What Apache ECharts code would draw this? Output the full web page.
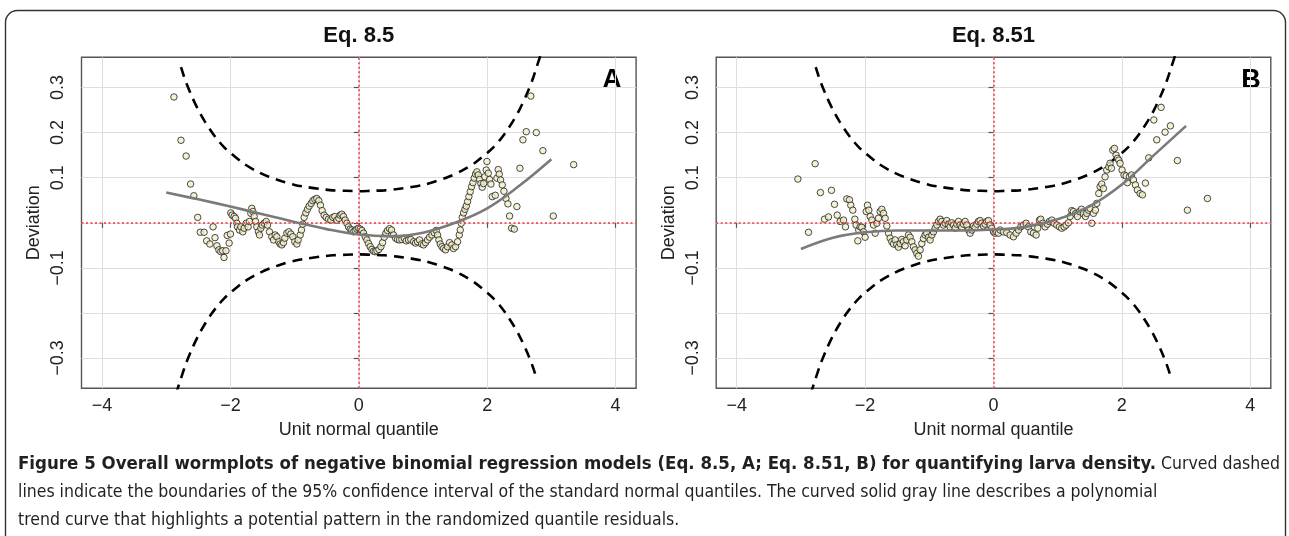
<!DOCTYPE html>
<html>
<head>
<meta charset="utf-8">
<script src="https://cdn.jsdelivr.net/npm/echarts@6/dist/echarts.min.js"></script>
<style>
html,body{margin:0;padding:0;background:#fff;}
#chart{width:1289px;height:536px;}
</style>
</head>
<body>
<div id="chart"></div>
<script>
// ---- tick definitions ----
const xTicks = [-4, -2, 0, 2, 4];
const yTicks = [-0.3, -0.2, -0.1, 0, 0.1, 0.2, 0.3];
const yLabelTicks = [-0.3, -0.1, 0.1, 0.2, 0.3];
const panelTitles = ['Eq. 8.5', 'Eq. 8.51'];
const panelLetters = ['A', 'B'];

// ---- 95% confidence band (dashed) ----
const bandUpperX = [-2.77,-2.7,-2.6,-2.5,-2.4,-2.3,-2.2,-2.1,-2.0,-1.8,-1.6,-1.4,-1.2,-1.0,-0.8,-0.6,-0.4,-0.2,0,0.2,0.4,0.6,0.8,1.0,1.2,1.4,1.6,1.8,2.0,2.1,2.2,2.3,2.4,2.5,2.6,2.7,2.77,2.85];
const bandUpperY = [0.345,0.315,0.280,0.250,0.225,0.203,0.184,0.168,0.155,0.132,0.115,0.102,0.092,0.084,0.079,0.075,0.072,0.071,0.070,0.071,0.072,0.075,0.079,0.084,0.092,0.102,0.115,0.132,0.155,0.168,0.184,0.203,0.225,0.250,0.280,0.315,0.345,0.380];
const bandLowerX = [-2.85,-2.77,-2.7,-2.6,-2.5,-2.4,-2.3,-2.2,-2.1,-2.0,-1.8,-1.6,-1.4,-1.2,-1.0,-0.8,-0.6,-0.4,-0.2,0,0.2,0.4,0.6,0.8,1.0,1.2,1.4,1.6,1.8,2.0,2.1,2.2,2.3,2.4,2.5,2.6,2.7,2.77];
const bandLowerY = [-0.380,-0.345,-0.315,-0.280,-0.250,-0.225,-0.203,-0.184,-0.168,-0.155,-0.132,-0.115,-0.102,-0.092,-0.084,-0.079,-0.075,-0.072,-0.071,-0.070,-0.071,-0.072,-0.075,-0.079,-0.084,-0.092,-0.102,-0.115,-0.132,-0.155,-0.168,-0.184,-0.203,-0.225,-0.250,-0.280,-0.315,-0.345];

// ---- polynomial trend curves (solid gray) ----
const trendX = [-3.0,-2.5,-2.0,-1.5,-1.0,-0.5,0,0.5,1.0,1.5,2.0,2.5,3.0];
const trendA = [0.067,0.052,0.036,0.019,0.002,-0.014,-0.026,-0.030,-0.022,0.000,0.032,0.082,0.141];
const trendB = [-0.058,-0.033,-0.021,-0.017,-0.017,-0.017,-0.015,-0.009,0.008,0.037,0.085,0.150,0.215];

// ---- residual points (unit normal quantile, deviation) ----
const pointsA = [
[-2.88,0.279],[-2.77,0.183],[-2.69,0.148],[-2.62,0.086],[-2.57,0.060],[-2.51,0.012],[-2.47,-0.021],[-2.41,-0.021],[-2.37,-0.040],[-2.32,-0.047],[-2.27,-0.009],[-2.24,-0.033],[-2.21,-0.051],[-2.18,-0.060],[-2.15,-0.064],[-2.12,-0.062],[-2.10,-0.077],[-2.07,-0.062],[-2.05,-0.028],[-2.02,-0.045],[-2.00,-0.025],
[-1.994,0.022],[-1.973,0.017],[-1.942,0.014],[-1.921,0.010],[-1.900,-0.001],[-1.890,-0.009],[-1.859,-0.016],[-1.838,-0.009],[-1.807,-0.020],[-1.786,-0.012],[-1.755,-0.001],[-1.724,-0.009],[-1.703,0.003],[-1.682,0.021],[-1.667,0.032],[-1.651,0.025],[-1.630,0.014],[-1.610,0.003],[-1.589,-0.009],[-1.563,-0.020],[-1.547,-0.027],[-1.526,-0.012],[-1.505,-0.005],[-1.474,-0.001],[-1.443,0.003],[-1.422,-0.005],[-1.391,-0.020],[-1.355,-0.031],[-1.329,-0.038],[-1.303,-0.027],[-1.277,-0.031],[-1.246,-0.042],[-1.225,-0.047],[-1.199,-0.049],[-1.173,-0.044],[-1.152,-0.034],[-1.121,-0.023],[-1.090,-0.020],[-1.059,-0.025],[-1.028,-0.031],[-0.997,-0.042],[-0.965,-0.047],[-0.945,-0.038],[-0.913,-0.027],[-0.893,-0.016],[-0.872,-0.003],[-0.851,0.012],[-0.825,0.022],[-0.799,0.030],[-0.773,0.037],[-0.742,0.043],[-0.716,0.049],[-0.685,0.052],[-0.654,0.054],[-0.623,0.049],[-0.597,0.039],[-0.571,0.027],[-0.540,0.017],[-0.508,0.012],[-0.472,0.008],[-0.436,0.006],[-0.404,0.012],[-0.373,0.014],[-0.342,0.006],[-0.310,0.010],[-0.290,0.017],[-0.264,0.019],[-0.238,0.014],[-0.212,0.006],[-0.186,-0.001],[-0.160,-0.009],[-0.134,-0.014],[-0.108,-0.016],[-0.082,-0.020],[-0.056,-0.017],[-0.030,-0.014],[-0.004,-0.012],[0.022,-0.014],[0.048,-0.017],[0.074,-0.023],[0.100,-0.031],[0.126,-0.038],[0.152,-0.046],[0.178,-0.053],[0.204,-0.059],[0.230,-0.063],[0.256,-0.064],[0.282,-0.062],[0.313,-0.059],[0.344,-0.053],[0.370,-0.044],[0.396,-0.032],[0.422,-0.023],[0.448,-0.017],[0.479,-0.013],[0.510,-0.016],[0.541,-0.027],[0.573,-0.034],[0.604,-0.037],[0.635,-0.038],[0.671,-0.037],[0.708,-0.034],[0.739,-0.040],[0.775,-0.038],[0.811,-0.037],[0.853,-0.042],[0.884,-0.045],[0.915,-0.042],[0.946,-0.038],[0.978,-0.047],[1.009,-0.049],[1.040,-0.044],[1.071,-0.038],[1.102,-0.032],[1.139,-0.027],[1.175,-0.022],[1.206,-0.017],[1.227,-0.027],[1.248,-0.038],[1.269,-0.047],[1.295,-0.053],[1.321,-0.057],[1.352,-0.060],[1.383,-0.053],[1.414,-0.044],[1.450,-0.049],[1.476,-0.057],[1.507,-0.053],[1.539,-0.042],[1.565,-0.027],[1.580,-0.016],[1.596,-0.001],[1.611,0.012],[1.632,0.022],[1.653,0.030],[1.674,0.037],[1.695,0.047],[1.715,0.058],[1.736,0.069],[1.757,0.080],[1.778,0.089],[1.798,0.099],[1.819,0.108],[1.840,0.113],[1.861,0.106],[1.881,0.096],[1.902,0.087],[1.923,0.079],[1.944,0.087],[1.964,0.102],[1.985,0.117],[1.996,0.136],[2.017,0.110],[2.037,0.096],[2.058,0.086],[2.079,0.058],[2.126,0.061],[2.152,0.099],[2.172,0.118],[2.188,0.108],[2.209,0.095],[2.235,0.084],[2.261,0.070],[2.292,0.054],[2.323,0.042],[2.349,0.015],[2.380,-0.012],[2.422,-0.014],[2.463,0.036],[2.510,0.121],[2.557,0.184],[2.609,0.202],[2.680,0.281],[2.765,0.200],[2.868,0.160],[3.030,0.015],[3.347,0.129]
];
const pointsB = [
[-3.048,0.097],[-2.882,-0.021],[-2.779,0.131],[-2.696,0.067],[-2.633,0.008],[-2.571,0.013],[-2.524,0.072],[-2.477,0.041],[-2.435,0.017],[-2.389,0.003],[-2.337,0.006],[-2.306,-0.009],[-2.285,0.053],[-2.244,0.051],[-2.223,0.039],[-2.192,0.028],[-2.160,0.008],[-2.140,-0.005],[-2.114,-0.040],[-2.099,-0.016],[-2.078,-0.009],[-2.052,-0.010],[-2.026,-0.020],[-2.000,-0.032],
[-1.983,0.025],[-1.963,0.039],[-1.942,0.028],[-1.921,0.014],[-1.895,0.006],[-1.869,-0.005],[-1.843,-0.023],[-1.817,-0.001],[-1.792,0.010],[-1.766,0.025],[-1.740,0.030],[-1.714,0.021],[-1.688,0.010],[-1.662,-0.007],[-1.636,-0.023],[-1.610,-0.034],[-1.584,-0.042],[-1.558,-0.047],[-1.533,-0.038],[-1.507,-0.049],[-1.481,-0.054],[-1.455,-0.046],[-1.429,-0.037],[-1.403,-0.042],[-1.377,-0.051],[-1.351,-0.038],[-1.325,-0.027],[-1.299,-0.032],[-1.273,-0.042],[-1.247,-0.053],[-1.221,-0.060],[-1.195,-0.068],[-1.169,-0.074],[-1.143,-0.060],[-1.117,-0.046],[-1.091,-0.035],[-1.065,-0.027],[-1.039,-0.023],[-1.013,-0.032],[-0.987,-0.038],[-0.961,-0.027],[-0.935,-0.020],[-0.909,-0.012],[-0.883,-0.005],[-0.857,0.003],[-0.831,0.008],[-0.805,0.003],[-0.779,-0.005],[-0.753,-0.001],[-0.728,0.005],[-0.702,-0.003],[-0.676,-0.009],[-0.650,0.000],[-0.624,-0.005],[-0.598,-0.012],[-0.572,-0.003],[-0.546,0.003],[-0.520,-0.005],[-0.494,-0.010],[-0.468,-0.003],[-0.442,0.003],[-0.416,-0.005],[-0.390,-0.016],[-0.364,-0.023],[-0.338,-0.016],[-0.313,-0.007],[-0.287,-0.010],[-0.261,-0.003],[-0.235,0.003],[-0.209,0.005],[-0.183,-0.001],[-0.157,-0.007],[-0.131,-0.003],[-0.105,0.003],[-0.079,0.005],[-0.053,-0.005],[-0.027,-0.012],[0.000,-0.020],[0.025,-0.023],[0.051,-0.020],[0.077,-0.023],[0.103,-0.016],[0.155,-0.020],[0.207,-0.022],[0.259,-0.027],[0.311,-0.031],[0.352,-0.023],[0.389,-0.016],[0.425,-0.009],[0.466,-0.005],[0.508,-0.001],[0.544,-0.009],[0.581,-0.020],[0.622,-0.023],[0.664,-0.027],[0.690,-0.012],[0.716,0.006],[0.736,0.008],[0.768,-0.001],[0.804,-0.009],[0.840,-0.003],[0.871,0.003],[0.908,0.006],[0.944,-0.001],[0.986,-0.005],[1.027,-0.009],[1.063,-0.012],[1.100,-0.009],[1.131,-0.005],[1.167,0.000],[1.193,0.014],[1.219,0.027],[1.245,0.025],[1.276,0.020],[1.308,0.014],[1.339,0.025],[1.370,0.030],[1.401,0.020],[1.432,0.014],[1.453,0.021],[1.484,0.028],[1.505,0.032],[1.531,-0.001],[1.557,0.021],[1.588,0.028],[1.609,0.043],[1.640,0.065],[1.661,0.080],[1.686,0.086],[1.713,0.076],[1.738,0.102],[1.764,0.117],[1.796,0.124],[1.816,0.132],[1.837,0.121],[1.858,0.161],[1.884,0.165],[1.910,0.150],[1.931,0.143],[1.951,0.139],[1.972,0.132],[2.003,0.117],[2.034,0.106],[2.066,0.104],[2.086,0.089],[2.118,0.102],[2.149,0.106],[2.180,0.095],[2.211,0.084],[2.242,0.073],[2.284,0.065],[2.320,0.062],[2.367,0.088],[2.418,0.144],[2.497,0.228],[2.543,0.184],[2.611,0.256],[2.673,0.201],[2.756,0.215],[2.865,0.138],[3.021,0.028],[3.333,0.054]
];

// ---- caption ----
const captionBold = 'Figure 5 Overall wormplots of negative binomial regression models (Eq. 8.5, A; Eq. 8.51, B) for quantifying larva density.';
const captionLines = [
  ' Curved dashed',
  'lines indicate the boundaries of the 95% confidence interval of the standard normal quantiles. The curved solid gray line describes a polynomial',
  'trend curve that highlights a potential pattern in the randomized quantile residuals.'
];

// ---- build option ----
const zip = (xs, ys) => xs.map((x, i) => [x, ys[i]]);
const fmt = v => (v < 0 ? '\u2212' : '') + (Number.isInteger(v) ? Math.abs(v) : Math.abs(v).toFixed(1));
const axisFont = 'Liberation Sans, Arial, sans-serif';
const gridLefts = [81.5, 716.2];
const gridW = 554.6;

const grids = [], xAxes = [], yAxes = [], series = [], titles = [];
[pointsA, pointsB].forEach((pts, i) => {
  grids.push({left: gridLefts[i], top: 57.3, width: gridW, height: 331,
    show: true, borderColor: '#555', borderWidth: 1.4, backgroundColor: 'transparent'});
  xAxes.push({gridIndex: i, type: 'value', min: -4.32, max: 4.32,
    axisLine: {show: false},
    axisTick: {show: true, length: 5, customValues: xTicks, lineStyle: {color: '#555', width: 1.2}},
    axisLabel: {customValues: xTicks, formatter: fmt, fontSize: 18, color: '#222', margin: 9, fontFamily: axisFont},
    splitLine: {show: true, lineStyle: {color: '#dedede', width: 1}},
    name: 'Unit normal quantile', nameLocation: 'middle', nameGap: 33,
    nameTextStyle: {fontSize: 18, color: '#222', fontFamily: axisFont}});
  yAxes.push({gridIndex: i, type: 'value', min: -0.367, max: 0.367,
    axisLine: {show: false},
    axisTick: {show: true, length: 5, customValues: yTicks, lineStyle: {color: '#555', width: 1.2}},
    axisLabel: {customValues: yLabelTicks, formatter: fmt, fontSize: 18, color: '#222', margin: 14, rotate: 90, fontFamily: axisFont},
    splitLine: {show: true, lineStyle: {color: '#dedede', width: 1}},
    name: 'Deviation', nameLocation: 'middle', nameGap: 38,
    nameTextStyle: {fontSize: 18, color: '#222', fontFamily: axisFont}});
  titles.push({text: panelTitles[i], left: gridLefts[i] + gridW / 2, top: 25, textAlign: 'center', padding: 0,
    textStyle: {fontSize: 22, fontWeight: 'bold', color: '#111', fontFamily: axisFont}});
  // red dotted reference lines
  series.push({type: 'line', xAxisIndex: i, yAxisIndex: i, data: [], silent: true, z: 2,
    markLine: {silent: true, symbol: ['none', 'none'], label: {show: false},
      lineStyle: {color: '#f2323a', type: [2, 2.5], width: 1.5},
      data: [{xAxis: 0}, {yAxis: 0}]}});
  series.push({type: 'line', xAxisIndex: i, yAxisIndex: i, data: zip(bandUpperX, bandUpperY), showSymbol: false,
    smooth: 0.3, silent: true, z: 3, lineStyle: {color: '#000', width: 2.6, type: [10, 7]}});
  series.push({type: 'line', xAxisIndex: i, yAxisIndex: i, data: zip(bandLowerX, bandLowerY), showSymbol: false,
    smooth: 0.3, silent: true, z: 3, lineStyle: {color: '#000', width: 2.6, type: [10, 7]}});
  series.push({type: 'scatter', xAxisIndex: i, yAxisIndex: i, data: pts, symbol: 'circle', symbolSize: 6.5, z: 4,
    itemStyle: {color: '#f3edc8', borderColor: '#1e1e1e', borderWidth: 1}});
  series.push({type: 'line', xAxisIndex: i, yAxisIndex: i, data: zip(trendX, i === 0 ? trendA : trendB), showSymbol: false,
    smooth: 0.4, silent: true, z: 5, lineStyle: {color: '#7a7a7a', width: 2.6}});
});

const captionFont = '"Liberation Sans Narrow", "Arial Narrow", "DejaVu Sans Condensed", sans-serif';
const option = {
  animation: false,
  backgroundColor: '#fff',
  title: titles,
  grid: grids,
  xAxis: xAxes,
  yAxis: yAxes,
  series: series,
  graphic: [
    {type: 'rect', shape: {x: 5.5, y: 10.5, width: 1280, height: 620, r: 12}, silent: true,
      style: {fill: 'none', stroke: '#333', lineWidth: 1.4}},
    {type: 'text', x: 612, y: 81, silent: true, style: {text: panelLetters[0], font: 'bold 27px ' + axisFont, fill: '#000', textAlign: 'center', textVerticalAlign: 'middle'}},
    {type: 'text', x: 1251, y: 81, silent: true, style: {text: panelLetters[1], font: 'bold 27px ' + axisFont, fill: '#000', textAlign: 'center', textVerticalAlign: 'middle'}},
    {type: 'text', x: 18, y: 464, silent: true, style: {
      text: '{b|' + captionBold + '}{n|' + captionLines[0] + '}', textVerticalAlign: 'middle',
      rich: {b: {fontFamily: captionFont, fontSize: 18.5, fontWeight: 'bold', fill: '#231f20'},
             n: {fontFamily: captionFont, fontSize: 17.5, fill: '#231f20'}}}},
    {type: 'text', x: 18, y: 492, silent: true, style: {text: captionLines[1], font: '17.5px ' + captionFont, fill: '#231f20', textVerticalAlign: 'middle'}},
    {type: 'text', x: 18, y: 520, silent: true, style: {text: captionLines[2], font: '17.5px ' + captionFont, fill: '#231f20', textVerticalAlign: 'middle'}}
  ]
};
const chart = echarts.init(document.getElementById('chart'), null, {renderer: 'canvas'});
chart.setOption(option);
</script>
</body>
</html>
